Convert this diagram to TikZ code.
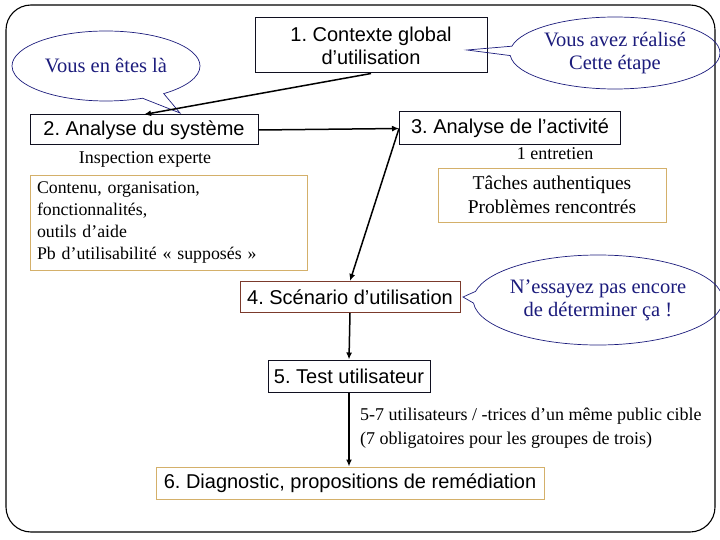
\documentclass[tikz,border=0pt]{standalone}
\usepackage{fontspec}
\setmainfont{Liberation Serif}
\setsansfont{Liberation Sans}
\usepackage{xcolor}
\usepackage{tikz}
\usetikzlibrary{shapes.callouts,arrows.meta}
\definecolor{UXNavy}{HTML}{1C1C7C}
\definecolor{UXTan}{HTML}{D4B06A}
\definecolor{UXBrown}{HTML}{7B3A2C}
\definecolor{UXLine}{HTML}{101020}
\frenchspacing

\begin{document}
\begin{tikzpicture}[x=1pt,y=-1pt,
  box/.style={draw=UXLine,line width=1pt,inner sep=0pt,align=center,font=\sffamily\fontsize{20}{23}\selectfont},
  note/.style={draw=UXTan,line width=0.9pt,inner sep=0pt},
  lbl/.style={inner sep=0pt,font=\fontsize{18}{24}\selectfont},
  bubble/.style={ellipse callout,draw=UXNavy,line width=0.7pt,text=UXNavy,align=center,inner sep=0pt,font=\fontsize{20.5}{23}\selectfont},
  flow/.style={line width=1.5pt,-{Latex[length=7pt,width=6pt]}}]
\path[use as bounding box] (0,0) rectangle (720,540);
\draw[line width=1.1pt,rounded corners=25pt] (6,5) rectangle (715,532);
% pointer tips of the bubbles
\coordinate (t1) at (467,50);
\coordinate (t2) at (180,113);
\coordinate (t4) at (463,297);
% steps
\node[box,minimum width=232,minimum height=55] (b1) at (371,45.5) {1. Contexte global\\d’utilisation};
\node[box,minimum width=228,minimum height=30] (b2) at (144,130) {2. Analyse du système};
\node[box,minimum width=221,minimum height=33] (b3) at (510,128.5) {3. Analyse de l’activité};
\node[box,draw=UXBrown,minimum width=220,minimum height=31] (b4) at (350,297) {4. Scénario d’utilisation};
\node[box,minimum width=162,minimum height=32] (b5) at (349,376) {5. Test utilisateur};
\node[box,draw=UXTan,minimum width=388,minimum height=32] (b6) at (350,483) {6. Diagnostic, propositions de remédiation};
% notes
\node[lbl] (insp) at (145,159) {Inspection experte};
\node[note,text width=263,inner xsep=7,minimum height=95,align=left,font=\fontsize{17.8}{22}\selectfont] (cont) at (168.5,222.5) {Contenu, organisation,\\fonctionnalités,\\outils d’aide\\Pb d’utilisabilité « supposés »};
\node[lbl] (entr) at (555,154) {1 entretien};
\node[note,minimum width=228,minimum height=54,align=center,font=\fontsize{19.5}{24}\selectfont] (tach) at (552,195) {Tâches authentiques\\Problèmes rencontrés};
\node[lbl,anchor=west,align=left] (publ) at (360,428) {5-7 utilisateurs / -trices d’un même public cible\\(7 obligatoires pour les groupes de trois)};
% bubbles
\node[bubble,minimum width=188,minimum height=70,callout absolute pointer={(t2)}] (youare) at (106,66) {Vous en êtes là};
\node[bubble,minimum width=210,minimum height=72,callout absolute pointer={(t1)}] (done) at (615,53) {Vous avez réalisé\\Cette étape};
\node[bubble,minimum width=205,minimum height=90,callout absolute pointer={(t4)}] (notyet) at (598,300) {N’essayez pas encore\\de déterminer ça !};
% arrows
\draw[flow] (b1.south) -- (b2.north);
\draw[flow] (b2.east) -- (b3.west);
\draw[flow] (b3.west) -- (b4.north);
\draw[flow] (b4.south) -- (b5.north);
\draw[flow] (b5.south) -- (b5.south |- b6.north);
\end{tikzpicture}
\end{document}
